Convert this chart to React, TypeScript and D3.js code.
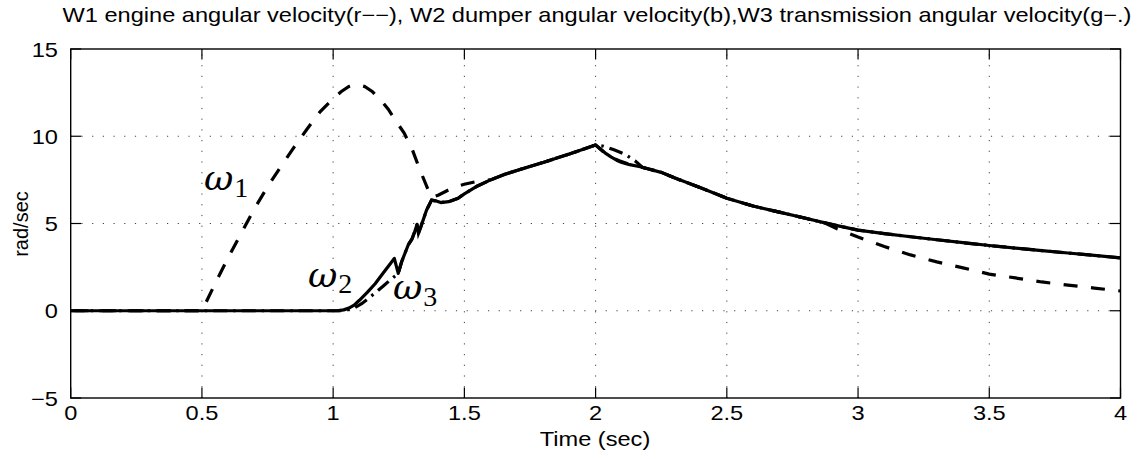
import React from 'react';
import * as d3 from 'd3';

const W = 1141;
const H = 459;
const M = { left: 70.7, right: 1120.5, top: 49, bottom: 398 };

const xTicks = [0, 0.5, 1, 1.5, 2, 2.5, 3, 3.5, 4];
const xTickLabels = ['0', '0.5', '1', '1.5', '2', '2.5', '3', '3.5', '4'];
const yTicks = [-5, 0, 5, 10, 15];
const yTickLabels = ['\u22125', '0', '5', '10', '15'];

const title = 'W1 engine angular velocity(r\u2212\u2212), W2 dumper angular velocity(b),W3 transmission angular velocity(g\u2212.)';
const xLabel = 'Time (sec)';
const yLabel = 'rad/sec';

// W1 engine angular velocity (dashed)
const w1Time = [0, 0.5, 0.55, 0.6, 0.65, 0.7, 0.75, 0.8, 0.85, 0.9, 0.95, 1.0, 1.03, 1.06, 1.09, 1.12, 1.15, 1.18, 1.21, 1.24, 1.27, 1.3, 1.33, 1.36, 1.375, 1.4, 1.43, 1.46, 1.5, 1.54, 1.585, 1.6, 1.65, 1.7, 1.8, 1.9, 2.0, 2.03, 2.06, 2.09, 2.12, 2.17, 2.25, 2.3, 2.4, 2.5, 2.6, 2.7, 2.8, 2.87, 2.92, 3.0, 3.1, 3.2, 3.3, 3.4, 3.5, 3.6, 3.7, 3.8, 3.9, 4.0];
const w1Values = [0, 0, 1.55, 3.05, 4.45, 5.85, 7.1, 8.25, 9.35, 10.4, 11.4, 12.15, 12.55, 12.85, 12.97, 12.85, 12.55, 12.1, 11.55, 10.85, 10.2, 9.3, 8.1, 7.0, 6.5, 6.62, 6.85, 7.08, 7.25, 7.38, 7.48, 7.5, 7.8, 8.04, 8.5, 8.98, 9.5, 9.1, 8.8, 8.6, 8.44, 8.25, 7.93, 7.62, 7.05, 6.45, 6.0, 5.65, 5.3, 5.05, 4.7, 4.22, 3.68, 3.2, 2.8, 2.46, 2.1, 1.88, 1.65, 1.47, 1.3, 1.13];

// W2 dumper angular velocity (solid)
const w2Time = [0, 1.0, 1.02, 1.04, 1.06, 1.08, 1.1, 1.13, 1.16, 1.19, 1.222, 1.233, 1.248, 1.261, 1.286, 1.3, 1.31, 1.32, 1.325, 1.335, 1.356, 1.375, 1.39, 1.41, 1.44, 1.476, 1.5, 1.55, 1.6, 1.65, 1.7, 1.8, 1.9, 2.0, 2.02, 2.04, 2.06, 2.08, 2.1, 2.13, 2.17, 2.25, 2.3, 2.4, 2.5, 2.6, 2.7, 2.8, 2.87, 2.92, 3.0, 3.1, 3.2, 3.3, 3.4, 3.5, 3.6, 3.7, 3.8, 3.9, 4.0];
const w2Values = [0, 0, 0.01, 0.05, 0.15, 0.32, 0.6, 1.05, 1.55, 2.15, 2.78, 3.0, 2.14, 2.81, 3.77, 4.1, 4.5, 4.95, 4.45, 4.85, 5.77, 6.34, 6.3, 6.2, 6.25, 6.45, 6.7, 7.15, 7.5, 7.8, 8.04, 8.5, 8.98, 9.5, 9.25, 9.0, 8.8, 8.63, 8.5, 8.37, 8.25, 7.93, 7.62, 7.05, 6.45, 6.0, 5.65, 5.3, 5.05, 4.88, 4.62, 4.42, 4.24, 4.07, 3.9, 3.74, 3.59, 3.45, 3.31, 3.17, 3.03];

// W3 transmission angular velocity (dash-dot)
const w3Time = [0, 1.04, 1.08, 1.11, 1.15, 1.19, 1.22, 1.248, 1.261, 1.286, 1.3, 1.31, 1.32, 1.325, 1.335, 1.356, 1.375, 1.39, 1.41, 1.44, 1.476, 1.5, 1.55, 1.6, 1.65, 1.7, 1.8, 1.9, 2.0, 2.03, 2.07, 2.11, 2.15, 2.18, 2.25, 2.3, 2.4, 2.5, 2.6, 2.7, 2.8, 2.87, 2.92, 3.0, 3.1, 3.2, 3.3, 3.4, 3.5, 3.6, 3.7, 3.8, 3.9, 4.0];
const w3Values = [0, 0, 0.15, 0.42, 0.9, 1.4, 1.8, 2.14, 2.81, 3.77, 4.1, 4.5, 4.95, 4.45, 4.85, 5.77, 6.34, 6.3, 6.2, 6.25, 6.45, 6.7, 7.15, 7.5, 7.8, 8.04, 8.5, 8.98, 9.5, 9.43, 9.22, 8.98, 8.6, 8.2, 7.93, 7.62, 7.05, 6.45, 6.0, 5.65, 5.3, 5.05, 4.88, 4.62, 4.42, 4.24, 4.07, 3.9, 3.74, 3.59, 3.45, 3.31, 3.17, 3.03];

const curveLabels = [
  { sym: '\u03c9', sub: '1', x: 204, y: 190, dy: 7 },
  { sym: '\u03c9', sub: '2', x: 308, y: 287, dy: 6 },
  { sym: '\u03c9', sub: '3', x: 393, y: 299, dy: 7 },
];

const SANS = "'Liberation Sans', Arial, Helvetica, sans-serif";
const SERIF = "'DejaVu Serif', 'Liberation Serif', serif";
const SUBF = "'Liberation Serif', 'Times New Roman', serif";
const SX = 1.18;
const TICK = 10.5;

export default function App() {
  const x = d3.scaleLinear().domain([0, 4]).range([M.left, M.right]);
  const y = d3.scaleLinear().domain([-5, 15]).range([M.bottom, M.top]);
  const path = (ts: number[], vs: number[]) =>
    d3.line<number>().x((_, i) => x(ts[i])).y((v) => y(v)).curve(d3.curveLinear)(vs) || '';

  const gridStyle = { stroke: '#444', strokeWidth: 1, strokeDasharray: '1.2 9.5' };
  const lw = 3.2;

  return (
    <svg width={W} height={H} style={{ position: 'absolute', left: 0, top: 0, background: '#fff' }}>
      <rect x={0} y={0} width={W} height={H} fill="#fff" />
      {xTicks.slice(1, -1).map((t) => (
        <line key={'gx' + t} x1={x(t)} x2={x(t)} y1={M.bottom} y2={M.top} {...gridStyle} />
      ))}
      {yTicks.slice(1, -1).map((t) => (
        <line key={'gy' + t} x1={M.left} x2={M.right} y1={y(t)} y2={y(t)} {...gridStyle} />
      ))}

      <path d={path(w1Time, w1Values)} fill="none" stroke="#000" strokeWidth={lw} strokeDasharray="14 13.5" strokeDashoffset={23.7} />
      <path d={path(w3Time, w3Values)} fill="none" stroke="#000" strokeWidth={lw} strokeDasharray="14 6 2.5 6" />
      <path d={path(w2Time, w2Values)} fill="none" stroke="#000" strokeWidth={lw} strokeLinejoin="round" />

      <rect x={M.left} y={M.top} width={M.right - M.left} height={M.bottom - M.top} fill="none" stroke="#000" strokeWidth={1.4} />
      {xTicks.map((t) => (
        <g key={'tx' + t}>
          <line x1={x(t)} x2={x(t)} y1={M.bottom} y2={M.bottom - TICK} stroke="#000" strokeWidth={1.2} />
          <line x1={x(t)} x2={x(t)} y1={M.top} y2={M.top + TICK} stroke="#000" strokeWidth={1.2} />
        </g>
      ))}
      {yTicks.map((t) => (
        <g key={'ty' + t}>
          <line x1={M.left} x2={M.left + TICK} y1={y(t)} y2={y(t)} stroke="#000" strokeWidth={1.2} />
          <line x1={M.right} x2={M.right - TICK} y1={y(t)} y2={y(t)} stroke="#000" strokeWidth={1.2} />
        </g>
      ))}

      <g fontFamily={SANS} fontSize={20} fill="#000">
        {xTicks.map((t, i) => (
          <text key={'lx' + t} transform={`translate(${x(t)},${420}) scale(${SX},1)`} textAnchor="middle">
            {xTickLabels[i]}
          </text>
        ))}
        {yTicks.map((t, i) => (
          <text key={'ly' + t} transform={`translate(${58},${y(t) + 7.5}) scale(${SX},1)`} textAnchor="end">
            {yTickLabels[i]}
          </text>
        ))}
        <text transform={`translate(597,22) scale(${SX},1)`} textAnchor="middle">{title}</text>
        <text transform={`translate(595,446) scale(${SX},1)`} textAnchor="middle">{xLabel}</text>
        <text transform={`translate(28,224) rotate(-90)`} textAnchor="middle">{yLabel}</text>
      </g>

      <g fill="#000">
        {curveLabels.map((c) => (
          <text key={c.sub} x={c.x} y={c.y}>
            <tspan fontFamily={SERIF} fontStyle="italic" fontSize={36}>{c.sym}</tspan>
            <tspan fontFamily={SUBF} fontSize={28} dy={c.dy} dx={1}>{c.sub}</tspan>
          </text>
        ))}
      </g>
    </svg>
  );
}
